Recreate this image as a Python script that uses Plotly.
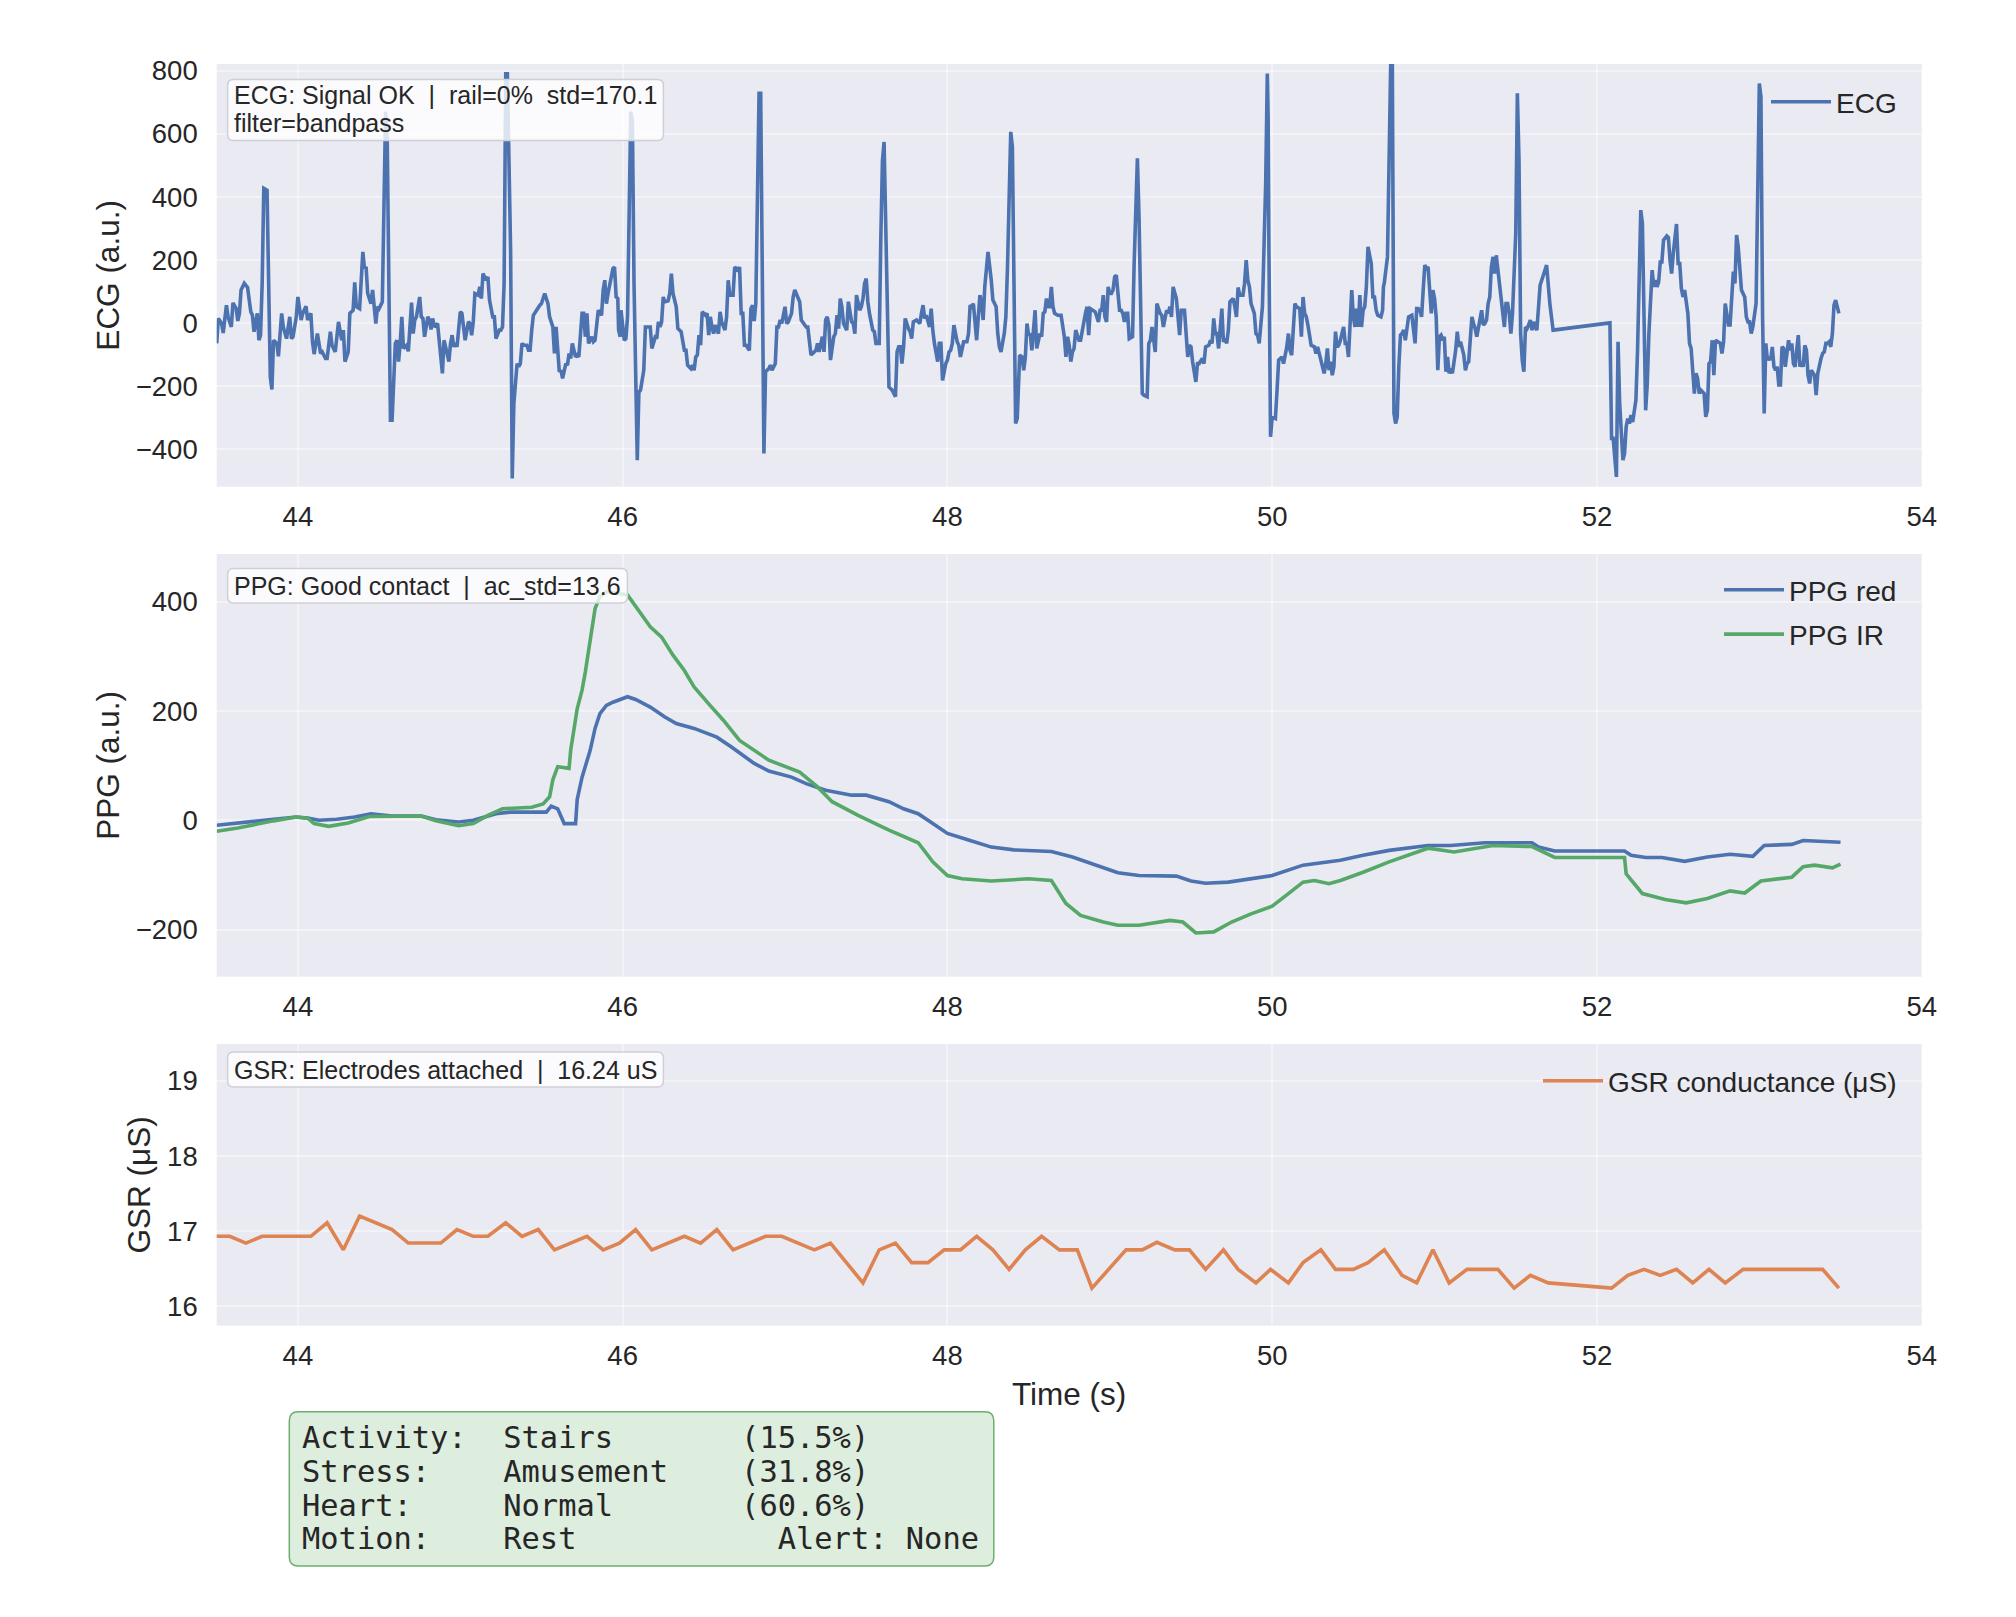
import plotly.graph_objects as go

W, H = 2016, 1617

# ---------------- data ----------------
ecg_t = [43.50,43.51,43.53,43.54,43.56,43.57,43.59,43.60,43.62,43.63,43.64,43.65,43.67,43.69,43.71,43.72,43.73,43.75,43.76,43.77,
43.78,43.79,43.81,43.82,43.83,43.84,43.85,43.87,43.88,43.90,43.91,43.93,43.95,43.96,43.97,43.99,44.00,44.02,44.03,44.05,
44.06,44.08,44.09,44.10,44.12,44.14,44.15,44.17,44.18,44.20,44.21,44.23,44.24,44.25,44.27,44.28,44.29,44.31,44.32,44.34,
44.35,44.36,44.38,44.39,44.40,44.41,44.42,44.43,44.45,44.46,44.47,44.48,44.49,44.50,44.52,44.53,44.54,44.55,44.56,44.57,
44.58,44.60,44.61,44.62,44.63,44.64,44.65,44.67,44.68,44.70,44.71,44.72,44.73,44.75,44.76,44.77,44.78,44.80,44.81,44.82,
44.83,44.84,44.86,44.87,44.88,44.89,44.90,44.91,44.93,44.94,44.95,44.96,44.97,44.98,45.00,45.01,45.02,45.03,45.05,45.06,
45.07,45.08,45.09,45.11,45.12,45.13,45.14,45.16,45.17,45.18,45.20,45.21,45.22,45.24,45.25,45.26,45.27,45.28,45.29,45.31,
45.32,45.33,45.35,45.36,45.37,45.38,45.39,45.41,45.42,45.43,45.44,45.45,45.47,45.48,45.49,45.50,45.52,45.53,45.54,45.55,
45.57,45.58,45.59,45.61,45.62,45.63,45.65,45.66,45.67,45.68,45.69,45.71,45.72,45.73,45.75,45.76,45.77,45.78,45.79,45.81,
45.82,45.83,45.84,45.85,45.87,45.88,45.89,45.90,45.91,45.93,45.94,45.95,45.96,45.97,45.975,45.985,45.99,46.01,46.02,46.03,
46.04,46.05,46.06,46.07,46.09,46.10,46.11,46.13,46.14,
46.15,46.17,46.18,46.20,46.21,46.22,46.23,46.24,46.25,46.26,46.28,46.29,46.30,46.31,46.33,46.34,46.36,46.37,46.38,46.39,
46.40,46.42,46.43,46.44,46.45,46.46,46.47,46.48,46.49,46.51,46.52,46.53,46.54,46.55,46.56,46.57,46.59,46.60,46.61,46.63,
46.64,46.65,46.66,46.68,46.69,46.71,46.72,46.73,46.74,46.75,46.76,46.78,46.79,46.80,46.81,46.82,46.83,46.84,46.85,46.86,
46.87,46.88,46.90,46.91,46.92,46.94,46.95,46.96,46.97,46.98,47.00,47.01,47.02,47.04,47.05,47.06,47.07,47.08,47.09,47.10,
47.12,47.13,47.14,47.16,47.17,47.19,47.20,47.21,47.23,47.24,47.25,47.26,47.27,47.28,47.30,47.31,47.32,47.33,47.34,47.35,
47.36,47.38,47.39,47.41,47.42,47.43,47.44,47.46,47.47,47.48,47.49,47.50,47.51,47.52,47.54,47.55,47.56,47.58,47.59,47.60,
47.61,47.62,47.64,47.66,47.68,47.69,47.70,47.71,47.72,47.73,47.74,47.76,47.77,47.78,47.79,47.81,47.83,47.84,47.85,47.86,
47.87,47.89,47.90,47.91,47.92,47.94,47.95,47.96,47.97,47.99,48.00,48.01,48.02,48.03,48.04,48.06,48.07,48.08,48.09,48.10,
48.12,48.13,48.14,48.15,48.16,48.17,48.18,48.20,48.21,48.22,48.23,48.25,48.26,48.27,48.28,48.30,48.31,48.32,48.33,48.35,
48.36,48.37,48.39,48.40,48.41,48.42,48.43,48.44,48.445,48.46,48.47,48.48,48.49,48.50,48.51,48.52,48.53,48.54,48.55,48.56,
48.57,48.58,48.59,48.60,48.61,48.62,48.63,48.64,48.65,48.66,48.68,48.70,48.71,48.72,48.73,48.74,48.75,48.76,48.77,48.78,
48.79,48.81,
48.82,48.83,48.85,48.86,48.87,48.88,48.90,48.91,48.93,48.94,48.95,48.96,48.97,48.98,48.99,49.00,49.01,49.02,49.03,49.04,
49.06,49.07,49.08,49.09,49.10,49.11,49.12,49.14,49.15,49.16,49.17,49.18,49.19,49.20,49.21,49.23,49.24,49.25,49.26,49.28,
49.29,49.31,49.32,49.33,49.35,49.36,49.37,49.38,49.39,49.41,49.42,49.43,49.44,49.46,49.47,49.48,49.49,49.50,49.51,49.53,
49.54,49.55,49.57,49.58,49.59,49.61,49.62,49.63,49.64,49.65,49.66,49.67,49.69,49.70,49.71,49.72,49.73,49.74,49.75,49.76,
49.77,49.78,49.79,49.80,49.82,49.83,49.84,49.85,49.86,49.87,49.89,49.90,49.91,49.92,49.94,49.95,49.96,49.97,49.975,49.98,
49.99,50.00,50.02,50.03,50.04,50.05,50.06,50.07,50.09,50.10,50.11,50.12,50.13,50.14,50.15,50.17,50.18,50.19,50.20,50.21,
50.22,50.23,50.24,50.26,50.27,50.28,50.29,50.30,50.32,50.33,50.34,50.35,50.36,50.37,50.38,50.39,50.40,50.41,50.42,50.44,
50.45,50.46,50.47,50.49,50.50,50.51,50.52,50.53,50.54,50.55,50.56,50.57,50.58,50.59,50.60,50.61,50.62,50.63,50.64,50.65,
50.67,50.68,50.685,50.69,50.71,50.72,50.73,50.74,50.745,50.75,50.76,50.77,50.78,50.79,50.80,50.81,50.82,50.83,50.84,50.86,
50.87,50.88,50.89,50.90,50.91,50.92,50.93,50.94,50.95,50.96,50.97,50.98,50.99,51.00,51.01,51.02,51.03,51.04,51.05,51.06,
51.07,51.08,51.09,51.10,51.11,51.13,51.14,51.15,51.16,51.17,51.18,51.19,51.20,51.21,51.22,51.23,51.24,51.25,51.26,51.27,
51.29,51.30,51.31,51.32,51.33,51.34,51.35,51.36,51.37,51.38,51.39,51.40,51.41,51.43,51.44,51.45,
51.46,51.47,51.48,51.50,51.51,51.52,51.53,51.54,51.55,51.56,51.57,51.59,51.60,51.61,51.62,51.63,51.65,51.67,51.69,51.71,
51.73,52.08,52.09,52.10,52.12,52.13,52.14,52.16,52.17,52.18,52.19,52.20,52.21,52.22,52.24,52.25,52.26,52.27,52.28,52.29,
52.30,52.31,52.32,52.34,52.35,52.36,52.37,52.38,52.39,52.40,52.41,52.43,52.44,52.45,52.46,52.47,52.49,52.50,52.51,52.52,
52.53,52.54,52.56,52.57,52.58,52.60,52.61,52.62,52.63,52.64,52.66,52.67,52.68,52.69,52.70,52.71,52.72,52.73,52.75,52.76,
52.77,52.78,52.79,52.80,52.81,52.82,52.83,52.84,52.85,52.86,52.87,52.88,52.89,52.91,52.92,52.93,52.94,52.95,52.96,52.98,
52.99,53.00,53.01,53.02,53.03,53.04,53.05,53.06,53.07,53.08,53.09,53.10,53.11,53.12,53.13,53.14,53.15,53.16,53.17,53.18,
53.19,53.20,53.21,53.22,53.23,53.24,53.25,53.26,53.27,53.28,53.29,53.30,53.31,53.32,53.34,53.35,53.36,53.37,53.38,53.39,
53.40,53.41,53.42,53.43,53.44,53.45,53.46,53.47,53.48,53.49]

ecg_v = [-64,15,-1,-31,57,20,-12,64,46,7,31,105,126,113,36,25,-27,31,-54,-38,
126,427,421,178,-170,-210,-54,-64,-105,31,-12,-49,20,-49,-43,20,83,10,31,54,
10,31,-59,-98,-33,-96,-91,-112,-112,-27,-70,-91,-43,4,-54,-22,-122,-91,31,41,
129,52,46,126,226,173,178,94,62,105,62,-1,52,46,68,390,670,585,231,-307,
-307,-64,-54,-122,-64,20,-80,-70,-89,65,-33,10,20,83,20,15,-43,20,10,-20,
15,-12,-1,-64,-107,-159,-54,-75,-122,-64,-38,-75,-64,-75,36,31,-12,-54,4,-1,
-38,4,94,89,115,78,157,136,147,73,20,20,-49,-22,-22,-12,126,790,790,231,
-492,-254,-128,-138,-128,-64,-70,-70,-86,-86,-22,25,41,52,57,62,94,78,62,20,
-12,-96,-12,-154,-149,-175,-128,-133,-96,-112,-64,-107,-101,-107,31,31,-43,31,-64,-43,
-59,-54,10,41,25,105,136,62,94,147,173,178,83,78,-22,-43,41,-54,-49,20,
337,670,640,126,-434,-218,-212,-149,-12,
-12,-12,-80,-45,-49,4,-12,4,83,68,71,94,157,94,52,-17,-27,-54,-86,-86,
-133,-144,-133,-149,-107,-101,-38,-70,36,25,31,-38,20,-12,-33,-6,-33,36,4,-22,
20,136,89,89,178,168,178,31,31,-70,-70,-86,46,57,7,62,495,728,728,231,
-413,-154,-144,-133,-149,-128,-12,-12,10,-1,52,-1,4,31,83,105,94,78,68,10,
-6,-12,-12,-101,-96,-86,-64,-91,-43,-91,10,20,-6,-117,-43,-33,25,-17,78,52,
-1,-22,68,4,-1,-33,89,41,52,78,126,141,68,31,-22,-27,-64,-64,274,516,
574,284,-202,-212,-233,-91,-75,-75,-128,-75,15,-17,-27,-49,4,10,-1,31,57,15,
25,-12,46,-22,-64,-122,-64,-64,-181,-128,-117,-91,-86,-64,-6,-59,-70,-107,-80,-59,
-59,-33,57,52,62,-12,-54,89,68,10,115,226,184,136,73,52,-33,-75,-91,-33,
20,178,606,559,126,-318,-302,-170,-101,-107,-149,-107,-1,-38,-33,-86,-27,41,-80,-54,
-33,-43,31,36,78,52,52,115,52,31,25,25,-12,-43,-107,-43,-70,-122,-91,-80,
-22,-54,
-54,-22,31,52,-38,46,41,36,4,41,41,89,20,4,115,94,94,105,147,152,
41,41,31,4,31,31,-49,-43,189,358,522,337,-33,-223,-228,-233,-64,-54,-12,-91,
62,31,25,-12,41,31,52,20,115,78,20,-38,41,41,-33,-107,-70,-75,-122,-186,
-128,-128,-112,-128,-75,-70,-54,-64,15,-33,-33,-80,46,-59,-49,-64,-22,68,73,78,
52,20,113,89,89,126,200,136,115,62,31,-33,-38,-64,52,231,442,791,654,231,
-360,-297,-302,-212,-117,-112,-107,-128,-75,-33,-86,-101,-12,62,52,46,-43,83,31,20,
-6,-38,-70,-75,-96,-75,-96,-112,-159,-128,-80,-149,-122,-165,-138,-27,-75,-70,-54,-12,
-64,-64,-107,105,20,-12,46,-12,89,-12,41,52,115,242,210,189,83,83,41,25,
20,41,115,126,210,495,823,823,337,-286,-318,-297,-138,-38,-33,-22,-54,-17,20,25,
-12,-64,46,46,41,20,105,184,173,178,105,31,105,78,20,-149,-43,-38,-54,-43,
-154,-107,-159,-144,-159,-86,-27,-75,-59,-80,-101,-149,-128,-122,-54,20,-1,-17,-43,-17,
41,-6,-1,10,62,83,178,210,157,215,168,147,83,-12,62,62,
31,-33,31,284,728,516,-33,-117,-154,-12,-17,10,-22,4,-12,-22,120,157,184,62,
-22,1,-365,-365,-487,-59,-254,-434,-413,-328,-302,-318,-291,-313,-244,-86,126,358,316,20,
-276,-191,-33,168,115,136,115,131,194,194,263,276,271,200,157,221,314,189,189,110,
83,105,31,-64,-80,-223,-159,-175,-223,-212,-223,-297,-276,-128,-122,-54,-165,-54,-59,-64,
-96,-59,62,20,-6,-6,62,163,126,279,242,178,105,83,20,4,4,-33,-12,62,
358,759,717,20,-286,-64,-117,-107,-117,-75,-138,-149,-138,-196,-196,-75,-80,-138,-96,-54,
-86,-64,-128,-138,-86,-38,-138,-122,-138,-70,-86,-165,-191,-149,-165,-228,-159,-133,-112,-96,
-91,-64,-64,-59,-75,-33,57,73,46,31]

ppg_red_t = [43.50,43.63,43.74,43.90,43.99,44.06,44.13,44.24,44.35,44.45,44.58,44.76,44.85,44.99,45.08,45.22,45.31,45.53,45.56,45.60,
             45.64,45.71,45.72,45.75,45.77,45.80,45.83,45.86,45.90,45.94,46.03,46.08,46.17,46.26,46.33,46.44,46.58,46.67,46.81,46.90,
             47.04,47.13,47.25,47.41,47.50,47.64,47.73,47.82,47.91,48.00,48.14,48.27,48.41,48.64,48.77,48.91,49.05,49.18,49.41,49.50,
             49.59,49.73,49.87,50.00,50.19,50.32,50.42,50.56,50.72,50.96,51.10,51.31,51.60,51.64,51.74,52.17,52.21,52.30,52.40,52.54,
             52.68,52.82,52.96,53.03,53.20,53.27,53.38,53.50]
ppg_red_v = [-9,-5,-1,4,6,4,0,2,6,12,8,8,1,-3,0,12,15,15,26,21,
             -6,-6,38,79,98,128,168,195,210,216,226,221,207,189,177,168,152,134,104,90,
             79,67,55,46,46,34,21,12,-6,-24,-37,-49,-54,-57,-67,-82,-96,-101,-102,-111,
             -115,-113,-107,-101,-82,-76,-73,-64,-55,-46,-46,-41,-41,-49,-56,-56,-64,-68,-68,-75,
             -67,-62,-66,-46,-44,-37,-38,-40]

ppg_ir_t = [43.50,43.63,43.85,43.99,44.06,44.10,44.19,44.31,44.44,44.58,44.76,44.85,44.99,45.08,45.17,45.26,45.44,45.51,45.55,45.57,
            45.60,45.67,45.68,45.72,45.75,45.77,45.80,45.83,45.86,45.90,46.03,46.10,46.17,46.24,46.31,46.38,46.44,46.53,46.62,46.72,
            46.81,46.90,47.09,47.20,47.29,47.45,47.64,47.82,47.91,48.00,48.09,48.27,48.50,48.64,48.73,48.82,48.96,49.05,49.18,49.37,
            49.45,49.53,49.64,49.75,49.87,50.00,50.10,50.19,50.26,50.35,50.42,50.56,50.72,50.96,51.12,51.36,51.60,51.67,51.74,52.17,
            52.18,52.23,52.28,52.42,52.55,52.68,52.82,52.91,53.01,53.20,53.27,53.34,53.45,53.50]
ppg_ir_v = [-20,-14,-1,6,4,-6,-11,-5,7,7,8,-1,-10,-6,9,21,24,30,43,74,
            98,95,128,204,238,271,332,387,409,418,412,384,354,335,302,274,244,213,183,146,
            128,110,88,61,34,9,-18,-41,-76,-101,-107,-111,-107,-110,-152,-174,-186,-192,-192,-183,
            -186,-206,-204,-186,-171,-157,-134,-113,-110,-116,-110,-95,-76,-51,-58,-46,-48,-58,-68,-68,
            -98,-116,-134,-145,-151,-143,-129,-133,-111,-104,-85,-82,-87,-80]

gsr_t = [43.49,43.58,43.68,43.78,44.08,44.18,44.28,44.38,44.58,44.68,44.88,44.98,45.08,45.17,45.28,45.38,45.48,45.58,45.78,45.88,
         45.98,46.08,46.18,46.38,46.48,46.58,46.68,46.88,46.98,47.18,47.28,47.48,47.58,47.68,47.78,47.88,47.98,48.08,48.18,48.28,
         48.38,48.48,48.58,48.69,48.80,48.89,49.10,49.20,49.29,49.40,49.49,49.59,49.70,49.79,49.90,49.99,50.10,50.19,50.30,50.39,
         50.50,50.59,50.69,50.80,50.89,50.99,51.09,51.20,51.39,51.49,51.59,51.70,52.09,52.19,52.29,52.39,52.49,52.59,52.69,52.79,
         52.90,53.39,53.49]
gsr_v = [16.93,16.93,16.84,16.93,16.93,17.11,16.75,17.20,17.02,16.84,16.84,17.02,16.93,16.93,17.11,16.93,17.02,16.75,16.93,16.75,
         16.84,17.02,16.75,16.93,16.84,17.02,16.75,16.93,16.93,16.75,16.84,16.31,16.75,16.84,16.58,16.58,16.75,16.75,16.93,16.75,
         16.49,16.75,16.93,16.75,16.75,16.24,16.75,16.75,16.85,16.75,16.75,16.49,16.75,16.49,16.31,16.49,16.31,16.58,16.75,16.49,
         16.49,16.58,16.75,16.41,16.31,16.75,16.31,16.49,16.49,16.24,16.41,16.31,16.24,16.41,16.49,16.41,16.49,16.31,16.49,16.31,
         16.49,16.49,16.24]

x_ticks = [44, 46, 48, 50, 52, 54]
ecg_ticks = [-400, -200, 0, 200, 400, 600, 800]
ppg_ticks = [-200, 0, 200, 400]
gsr_ticks = [16, 17, 18, 19]

ecg_note = ["ECG: Signal OK  |  rail=0%  std=170.1", "filter=bandpass"]
ppg_note = "PPG: Good contact  |  ac_std=13.6"
gsr_note = "GSR: Electrodes attached  |  16.24 uS"
status_lines = [
    "Activity:  Stairs       (15.5%)",
    "Stress:    Amusement    (31.8%)",
    "Heart:     Normal       (60.6%)",
    "Motion:    Rest           Alert: None",
]

# ---------------- styling ----------------
BLUE, GREEN, ORANGE = "#4C72B0", "#55A868", "#DD8452"
BG = "#EAEAF2"
GRID = "rgba(255,255,255,0.38)"
TXT = "#262626"
SANS = "Liberation Sans, Arial, Helvetica, sans-serif"
MONO = "DejaVu Sans Mono, monospace"
TICK_FS, TITLE_FS, LEG_FS, NOTE_FS, MONO_FS = 27.5, 31.5, 28, 25, 30.4
LW = 3.6

def nb(s):
    return s.replace(" ", "\u00a0")

def minus(v):
    return str(v).replace("-", "\u2212")

def rounded_box(left, top, right, bottom, r, fill, edge, width):
    """Rounded rectangle as a paper-referenced path (pixel inputs)."""
    x0, x1 = left / W, right / W
    y0, y1 = 1 - bottom / H, 1 - top / H
    rx, ry = r / W, r / H
    path = (f"M{x0+rx},{y0} L{x1-rx},{y0} Q{x1},{y0} {x1},{y0+ry} L{x1},{y1-ry} Q{x1},{y1} {x1-rx},{y1} "
            f"L{x0+rx},{y1} Q{x0},{y1} {x0},{y1-ry} L{x0},{y0+ry} Q{x0},{y0} {x0+rx},{y0} Z")
    fig.add_shape(type="path", path=path, xref="paper", yref="paper",
                  fillcolor=fill, line=dict(color=edge, width=width), layer="above")

fig = go.Figure()
fig.add_trace(go.Scatter(x=ecg_t, y=ecg_v, mode="lines", name="ECG",
                         line=dict(color=BLUE, width=LW), xaxis="x", yaxis="y", legend="legend"))
fig.add_trace(go.Scatter(x=ppg_red_t, y=ppg_red_v, mode="lines", name="PPG red", legendgroup="r",
                         line=dict(color=BLUE, width=LW), xaxis="x2", yaxis="y2", legend="legend2"))
fig.add_trace(go.Scatter(x=ppg_ir_t, y=ppg_ir_v, mode="lines", name="PPG IR", legendgroup="ir",
                         line=dict(color=GREEN, width=LW), xaxis="x2", yaxis="y2", legend="legend2"))
fig.add_trace(go.Scatter(x=gsr_t, y=gsr_v, mode="lines", name="GSR conductance (μS)",
                         line=dict(color=ORANGE, width=LW), xaxis="x3", yaxis="y3", legend="legend3"))

XD = [216.7 / W, 1921.7 / W]
def pdom(top, bottom):
    return [1 - bottom / H, 1 - top / H]

def xaxis(anchor, title=None):
    d = dict(domain=XD, range=[43.5, 54], anchor=anchor, tickvals=x_ticks,
             ticktext=[str(v) for v in x_ticks], showgrid=True, gridcolor=GRID, gridwidth=2,
             zeroline=False, showline=False, ticks="", automargin=False,
             tickfont=dict(family=SANS, size=TICK_FS, color=TXT), ticklabelstandoff=11)
    if title:
        d["title"] = dict(text=title, font=dict(family=SANS, size=TITLE_FS, color=TXT), standoff=12)
    return d

def yaxis(anchor, dom, rng, ticks, title, standoff):
    return dict(domain=dom, range=rng, anchor=anchor, tickvals=ticks,
                ticktext=[minus(v) for v in ticks], showgrid=True, gridcolor=GRID, gridwidth=2,
                zeroline=False, showline=False, ticks="", automargin=False,
                tickfont=dict(family=SANS, size=TICK_FS, color=TXT), ticklabelstandoff=18,
                title=dict(text=title, font=dict(family=SANS, size=TITLE_FS, color=TXT), standoff=standoff))

leg_common = dict(xanchor="right", yanchor="top", bgcolor="rgba(0,0,0,0)", borderwidth=0,
                  font=dict(family=SANS, size=LEG_FS, color=TXT), tracegroupgap=5, itemwidth=60)

fig.update_layout(
    width=W, height=H, margin=dict(l=0, r=0, t=0, b=0),
    paper_bgcolor="white", plot_bgcolor=BG, showlegend=True,
    font=dict(family=SANS, color=TXT),
    xaxis=xaxis("y"), yaxis=yaxis("x", pdom(64, 486.7), [-518, 821], ecg_ticks, "ECG (a.u.)", 6),
    xaxis2=xaxis("y2"), yaxis2=yaxis("x2", pdom(554, 976.7), [-286, 487], ppg_ticks, "PPG (a.u.)", 6),
    xaxis3=xaxis("y3", "Time (s)"), yaxis3=yaxis("x3", pdom(1044, 1325.7), [15.74, 19.49], gsr_ticks, "GSR (μS)", 7),
    legend=dict(x=1902 / W, y=1 - 77 / H, **leg_common),
    legend2=dict(x=1902 / W, y=1 - 565 / H, **leg_common),
    legend3=dict(x=1902 / W, y=1 - 1056 / H, **leg_common),
)

# signal-quality notes: rounded translucent boxes + text
NOTE_FILL, NOTE_EDGE = "rgba(255,255,255,0.8)", "#cfcfd6"
rounded_box(227.6, 79.5, 663.4, 140.5, 6, NOTE_FILL, NOTE_EDGE, 1.5)
rounded_box(227.6, 568.5, 627.4, 603.0, 6, NOTE_FILL, NOTE_EDGE, 1.5)
rounded_box(227.6, 1052.0, 663.4, 1087.0, 6, NOTE_FILL, NOTE_EDGE, 1.5)
note_style = dict(xref="paper", yref="paper", xanchor="left", yanchor="middle", showarrow=False, align="left",
                  font=dict(family=SANS, size=NOTE_FS, color=TXT))
fig.add_annotation(text=nb(ecg_note[0]), x=232 / W, y=1 - 95 / H, **note_style)
fig.add_annotation(text=nb(ecg_note[1]), x=232 / W, y=1 - 123 / H, **note_style)
fig.add_annotation(text=nb(ppg_note), x=232 / W, y=1 - 586 / H, **note_style)
fig.add_annotation(text=nb(gsr_note), x=232 / W, y=1 - 1069.5 / H, **note_style)

# status box (rounded) with monospaced lines
rounded_box(289.3, 1411.7, 993.8, 1566.0, 9, "#DDEDDE", "#6DAE6D", 1.5)
line_y = [1437, 1471, 1505, 1538.5]
for txt, yy in zip(status_lines, line_y):
    fig.add_annotation(text=nb(txt), x=300 / W, y=1 - yy / H, xref="paper", yref="paper",
                       xanchor="left", yanchor="middle", showarrow=False,
                       font=dict(family=MONO, size=MONO_FS, color=TXT))

fig.write_html("out.html")
